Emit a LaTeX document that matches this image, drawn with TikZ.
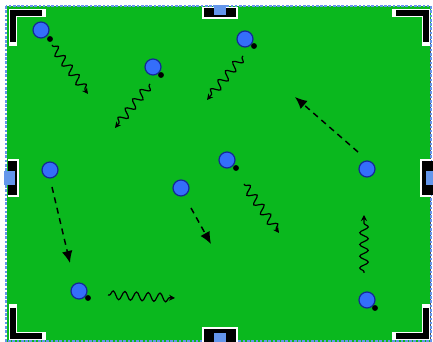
\documentclass[tikz,border=0pt]{standalone}
\usepackage{tikz}
\usetikzlibrary{arrows.meta,decorations.pathmorphing}
\definecolor{PitchGreen}{RGB}{10,184,30}
\definecolor{PlayerBlue}{RGB}{52,110,250}
\definecolor{PlayerEdge}{RGB}{20,40,150}
\definecolor{HandleBlue}{RGB}{100,150,235}
\begin{document}
\begin{tikzpicture}[x=0.75pt,y=-0.75pt,
  player/.style={circle,fill=PlayerBlue,draw=PlayerEdge,line width=0.9pt,minimum size=12pt,inner sep=0pt},
  ball/.style={circle,fill=black,minimum size=4.4pt,inner sep=0pt},
  dribble/.style={decorate,decoration={snake,amplitude=3.2pt,segment length=8.8pt,pre length=1pt,post length=3pt},line width=0.9pt,-{Stealth[length=4.5pt,width=4.5pt]}},
  pass/.style={dash pattern=on 4.5pt off 3.5pt,line width=1.1pt,-{Latex[length=9pt,width=8pt]}},
  bracket/.style={line width=4.6pt,line cap=butt},
  bracketrim/.style={white,line width=6.2pt,line cap=rect}]
\useasboundingbox (0,0) rectangle (433,342);
\fill[white] (0,0) rectangle (433,342);
% pitch and selection frame
\fill[PitchGreen] (7,6) rectangle (431,342);
\draw[black!70,line width=0.8pt] (430.5,30) -- (430.5,342);
\draw[HandleBlue,line width=0.8pt,dash pattern=on 2pt off 1.2pt] (6,6) rectangle (431,341);
% corner brackets
\foreach \p in {{(13,42) -- (13,13) -- (42,13)},{(396,13) -- (426,13) -- (426,42)},
                {(13,308) -- (13,336) -- (42,336)},{(396,336) -- (426,336) -- (426,308)}} {
  \draw[bracketrim] \p;
  \draw[bracket] \p;
}
% side handles
\fill[white] (202,7) rectangle (238,19);
\fill[black] (204,8) rectangle (236,17);
\fill[HandleBlue] (214,5) rectangle (226,15);
\fill[white] (202,327) rectangle (238,342);
\fill[black] (204,329) rectangle (236,342);
\fill[HandleBlue] (214,333) rectangle (226,342);
\fill[white] (8,159) rectangle (19,197);
\fill[black] (8,161) rectangle (17,195);
\fill[HandleBlue] (4,171) rectangle (15,185);
\fill[white] (420,159) rectangle (431,197);
\fill[black] (422,161) rectangle (433,195);
\fill[HandleBlue] (426,171) rectangle (433,185);
% players
\node[player] (p1) at (41,30) {};
\node[player] (p2) at (153,67) {};
\node[player] (p3) at (245,39) {};
\node[player] (p4) at (50,170) {};
\node[player] (p5) at (227,160) {};
\node[player] (p6) at (181,188) {};
\node[player] (p7) at (367,169) {};
\node[player] (p8) at (79,291) {};
\node[player] (p9) at (367,300) {};
% balls
\node[ball] (b1) at (50,39) {};
\node[ball] (b2) at (161,75) {};
\node[ball] (b3) at (254,46) {};
\node[ball] (b5) at (236,168) {};
\node[ball] (b8) at (88,298) {};
\node[ball] (b9) at (375,308) {};
% run targets
\coordinate (d1s) at (52,45);  \coordinate (d1e) at (88,94);
\coordinate (d2s) at (150,84); \coordinate (d2e) at (115,128);
\coordinate (d3s) at (243,56); \coordinate (d3e) at (207,100);
\coordinate (d5s) at (244,184); \coordinate (d5e) at (279,233);
\coordinate (d8s) at (108,295); \coordinate (d8e) at (175,298);
\coordinate (d9s) at (364,273); \coordinate (d9e) at (364,215);
\coordinate (s4s) at (52,187);  \coordinate (s4e) at (70,263);
\coordinate (s6s) at (191,208); \coordinate (s6e) at (211,244);
\coordinate (s7s) at (358,152); \coordinate (s7e) at (295,97);
% dribbles
\draw[dribble] (d1s) -- (d1e);
\draw[dribble] (d2s) -- (d2e);
\draw[dribble] (d3s) -- (d3e);
\draw[dribble] (d5s) -- (d5e);
\draw[dribble] (d8s) -- (d8e);
\draw[dribble] (d9s) -- (d9e);
% passes and runs
\draw[pass] (s4s) -- (s4e);
\draw[pass] (s6s) -- (s6e);
\draw[pass] (s7s) -- (s7e);
\end{tikzpicture}
\end{document}
